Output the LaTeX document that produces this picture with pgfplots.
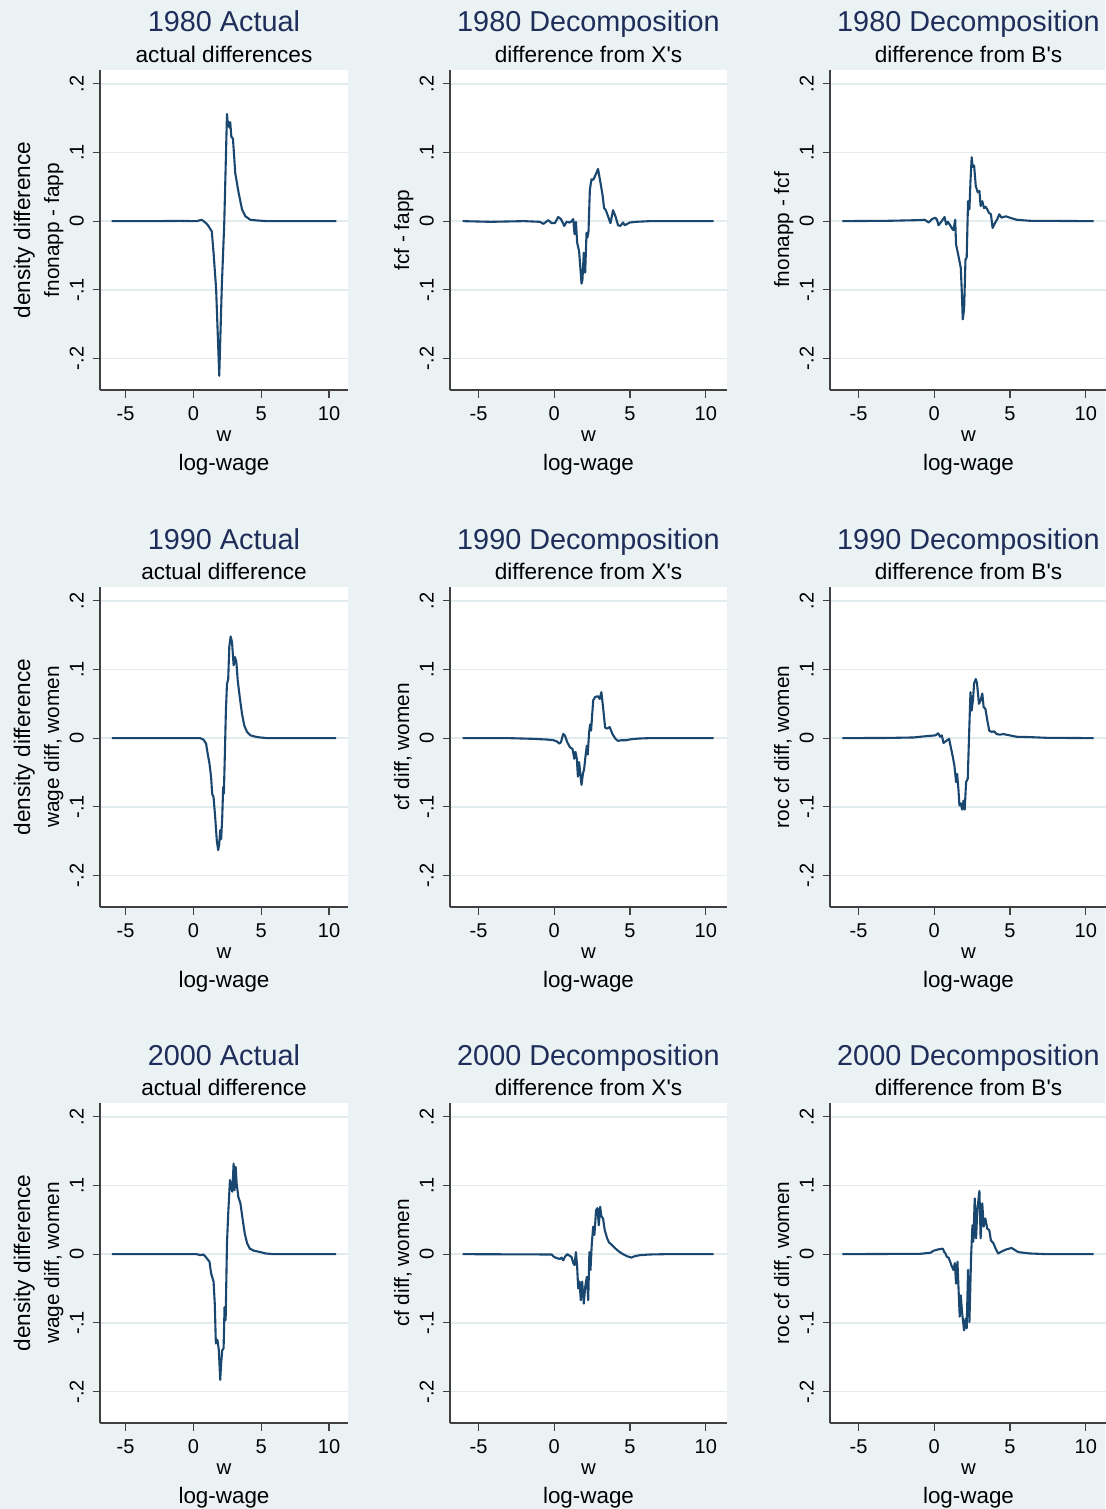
\documentclass[border=0pt]{standalone}
\usepackage{fontspec}
\setmainfont{Liberation Sans}[Ligatures=TeXOff]
\usepackage{pgfplots}
\pgfplotsset{compat=1.18}

\definecolor{bgcol}{RGB}{234,242,243}
\definecolor{gridcol}{RGB}{226,235,238}
\definecolor{axisgray}{RGB}{64,64,64}
\definecolor{navyline}{RGB}{26,71,111}
\definecolor{titlecol}{RGB}{30,45,90}

\pgfplotsset{
  panel/.style={
    scale only axis, anchor=north west,
    height=160pt,
    xmin=-6.88, xmax=11.4, ymin=-0.2458, ymax=0.22,
    axis x line*=bottom, axis y line*=left,
    axis line style={draw=axisgray, line width=0.6pt},
    axis background/.style={fill=white},
    xtick={-5,0,5,10}, xticklabels={-5,0,5,10},
    ytick={-0.2,-0.1,0,0.1,0.2}, yticklabels={-.2,-.1,0,.1,.2},
    tick align=outside, major tick length=3.75pt,
    tick style={draw=axisgray, line width=0.6pt},
    ymajorgrids, grid style={draw=gridcol, line width=0.8pt},
    tick label style={font=\fontsize{10}{12}\selectfont},
    xticklabel style={anchor=base, yshift=-11.6pt},
    yticklabel style={xshift=-4.4pt, rotate=90, anchor=base},
  },
  curve/.style={color=navyline, line width=1.05pt, line join=round, mark=none},
}

% text around one panel: center x, left x, top y (pixels), title, subtitle
\newcommand{\panelhead}[5]{%
  \node[anchor=base, text=titlecol, font=\fontsize{14.4}{17}\selectfont] at (#1,-#3+38) {#4};
  \node[anchor=base, font=\fontsize{11.3}{13}\selectfont] at (#1,-#3+7.7) {#5};
  \node[anchor=base, font=\fontsize{10.2}{12}\selectfont] at (#1,-#3-371.7) {w};
  \node[anchor=base, font=\fontsize{11.2}{13}\selectfont] at (#1,-#3-400) {log-wage};
}
\newcommand{\ytitleone}[3]{% left x, top y, text
  \node[rotate=90, anchor=base, font=\fontsize{10.4}{12}\selectfont] at (#1-41,-#2-160) {#3};
}
\newcommand{\ytitletwo}[4]{% left x, top y, line 1, line 2
  \node[rotate=90, anchor=base, font=\fontsize{11.3}{13}\selectfont] at (#1-70,-#2-160) {#3};
  \node[rotate=90, anchor=base, font=\fontsize{10.4}{12}\selectfont] at (#1-41,-#2-160) {#4};
}

\begin{document}
\begin{tikzpicture}[x=0.5pt, y=0.5pt]
\path[use as bounding box] (0,0) rectangle (1105,-1509);
\fill[bgcol] (0,0) rectangle (1105,-1509);

% ---------------- row 1: 1980 ----------------
\begin{axis}[panel, at={(50pt,-35pt)}, width=124pt]
\addplot[curve] coordinates {
(-6.03,0) (-3,0) (-1,0.0003) (0.25,0) (0.62,0.002) (0.94,-0.003) (1.11,-0.007)
(1.36,-0.015) (1.49,-0.046) (1.68,-0.099) (1.91,-0.225) (2.1,-0.094) (2.28,-0.002)
(2.48,0.156) (2.55,0.138) (2.62,0.144) (2.67,0.136) (2.72,0.144) (2.8,0.123)
(2.92,0.12) (3.09,0.07) (3.34,0.041) (3.59,0.017) (3.84,0.007) (4.2,0.002)
(4.7,0.001) (5.4,0) (10.55,0)};
\end{axis}
\begin{axis}[panel, at={(225pt,-35pt)}, width=138.5pt]
\addplot[curve] coordinates {
(-6.05,0) (-4.2,-0.001) (-2,0) (-0.94,-0.001) (-0.72,-0.004) (-0.39,0.0015)
(-0.18,-0.003) (0.04,-0.003) (0.26,0.006) (0.44,0.003) (0.66,-0.007) (0.81,-0.001)
(1.03,-0.002) (1.14,0) (1.25,0.003) (1.34,-0.019) (1.43,-0.001) (1.51,-0.031)
(1.64,-0.044) (1.8,-0.091) (1.86,-0.085) (1.95,-0.046) (2.04,-0.075) (2.13,-0.017)
(2.19,-0.024) (2.26,-0.015) (2.35,0.046) (2.46,0.061) (2.57,0.06) (2.68,0.065)
(2.89,0.076) (3.05,0.056) (3.18,0.039) (3.29,0.019) (3.4,0.016) (3.55,0.007)
(3.71,-0.003) (3.88,0.016) (4.04,0.007) (4.21,-0.006) (4.36,-0.007) (4.54,-0.002)
(4.65,-0.006) (4.98,-0.002) (5.4,-0.001) (6.3,0) (10.52,0)};
\end{axis}
\begin{axis}[panel, at={(415pt,-35pt)}, width=138.5pt]
\addplot[curve] coordinates {
(-6.06,0) (-3,0.0005) (-0.92,0.0015) (-0.63,0.002) (-0.37,-0.002) (-0.15,0.003)
(0.07,0.005) (0.18,0.002) (0.28,-0.006) (0.46,-0.001) (0.68,0.006) (0.79,-0.005)
(0.9,-0.001) (1.05,-0.006) (1.18,-0.011) (1.27,-0.013) (1.38,0.002) (1.44,-0.034)
(1.6,-0.051) (1.75,-0.068) (1.82,-0.104) (1.88,-0.143) (1.97,-0.128) (2.06,-0.056)
(2.14,-0.053) (2.23,0.029) (2.32,0.017) (2.39,0.058) (2.47,0.093) (2.54,0.079)
(2.63,0.081) (2.74,0.051) (2.87,0.042) (2.98,0.044) (3.06,0.022) (3.17,0.029)
(3.28,0.019) (3.39,0.021) (3.5,0.017) (3.61,0.012) (3.74,0.01) (3.85,-0.01)
(4.0,-0.003) (4.16,0.003) (4.29,0.01) (4.44,0.005) (4.55,0.006) (4.73,0.007)
(4.99,0.005) (5.43,0.002) (6.3,0.0005) (10.52,0)};
\end{axis}

% ---------------- row 2: 1990 ----------------
\begin{axis}[panel, at={(50pt,-293.5pt)}, width=124pt]
\addplot[curve] coordinates {
(-6.01,0) (0.5,0) (0.74,-0.002) (0.94,-0.008) (1.06,-0.023) (1.19,-0.037)
(1.31,-0.057) (1.39,-0.081) (1.49,-0.086) (1.61,-0.115) (1.73,-0.149) (1.83,-0.163)
(1.91,-0.154) (1.98,-0.134) (2.05,-0.147) (2.13,-0.115) (2.2,-0.071) (2.25,-0.081)
(2.33,-0.018) (2.4,0.04) (2.48,0.079) (2.57,0.086) (2.65,0.133) (2.75,0.148)
(2.85,0.14) (2.97,0.106) (3.07,0.118) (3.17,0.111) (3.27,0.084) (3.42,0.06)
(3.59,0.035) (3.76,0.018) (3.96,0.009) (4.21,0.004) (4.7,0.0015) (5.45,0) (10.52,0)};
\end{axis}
\begin{axis}[panel, at={(225pt,-293.5pt)}, width=138.5pt]
\addplot[curve] coordinates {
(-6.05,0) (-3,0) (-1.38,-0.001) (-0.5,-0.002) (-0.07,-0.003) (0.2,-0.005)
(0.33,-0.008) (0.44,-0.006) (0.59,0.006) (0.7,0.004) (0.86,-0.006) (1.03,-0.013)
(1.21,-0.016) (1.32,-0.03) (1.4,-0.02) (1.49,-0.03) (1.56,-0.056) (1.64,-0.035)
(1.73,-0.054) (1.8,-0.068) (1.89,-0.052) (1.97,-0.045) (2.08,-0.023) (2.15,-0.011)
(2.21,-0.024) (2.3,0.009) (2.37,0.02) (2.43,0.011) (2.57,0.055) (2.7,0.06)
(2.89,0.061) (3.0,0.057) (3.11,0.067) (3.22,0.045) (3.36,0.015) (3.49,0.014)
(3.66,0.016) (3.84,0.006) (4.04,-0.001) (4.21,-0.004) (4.43,-0.003) (4.76,-0.003)
(5.09,-0.0015) (5.64,-0.0005) (6.3,0) (10.52,0)};
\end{axis}
\begin{axis}[panel, at={(415pt,-293.5pt)}, width=138.5pt]
\addplot[curve] coordinates {
(-6.06,0) (-3,0.0003) (-1.36,0.001) (-0.48,0.003) (0.07,0.004) (0.26,0.007)
(0.39,0.002) (0.5,0.004) (0.61,-0.007) (0.79,-0.004) (0.98,-0.001) (1.09,-0.013)
(1.23,-0.028) (1.33,-0.04) (1.44,-0.064) (1.51,-0.052) (1.6,-0.076) (1.66,-0.098)
(1.75,-0.095) (1.84,-0.104) (1.93,-0.091) (2.01,-0.104) (2.1,-0.064) (2.21,-0.059)
(2.3,0.006) (2.39,0.067) (2.47,0.04) (2.56,0.057) (2.63,0.08) (2.74,0.086)
(2.82,0.08) (2.95,0.05) (3.06,0.055) (3.17,0.065) (3.26,0.045) (3.37,0.043)
(3.5,0.026) (3.63,0.011) (3.79,0.009) (3.94,0.01) (4.11,0.006) (4.33,0.005)
(4.55,0.006) (4.77,0.005) (4.99,0.004) (5.43,0.002) (6.3,0.0015) (7.4,0.0005) (10.52,0)};
\end{axis}

% ---------------- row 3: 2000 ----------------
\begin{axis}[panel, at={(50pt,-551.5pt)}, width=124pt]
\addplot[curve] coordinates {
(-6.01,0) (0.25,0) (0.5,-0.0015) (0.74,-0.0005) (0.87,-0.003) (0.99,-0.006)
(1.19,-0.011) (1.31,-0.028) (1.49,-0.04) (1.58,-0.072) (1.66,-0.13) (1.78,-0.125)
(1.88,-0.14) (1.98,-0.183) (2.05,-0.159) (2.13,-0.14) (2.23,-0.137) (2.3,-0.077)
(2.38,-0.096) (2.48,0.016) (2.57,0.059) (2.7,0.108) (2.77,0.098) (2.87,0.091)
(2.97,0.132) (3.04,0.093) (3.12,0.127) (3.19,0.103) (3.32,0.083) (3.47,0.074)
(3.64,0.05) (3.79,0.03) (3.96,0.016) (4.16,0.008) (4.46,0.005) (4.95,0.003)
(5.32,0.001) (5.94,0) (10.52,0)};
\end{axis}
\begin{axis}[panel, at={(225pt,-551.5pt)}, width=138.5pt]
\addplot[curve] coordinates {
(-6.05,0) (-0.18,-0.0005) (-0.02,-0.004) (0.2,-0.006) (0.37,-0.007) (0.48,-0.005)
(0.59,-0.009) (0.7,-0.004) (0.86,0) (0.99,-0.002) (1.14,-0.004) (1.25,-0.013)
(1.34,-0.016) (1.43,0.003) (1.51,-0.018) (1.58,-0.05) (1.67,-0.04) (1.75,-0.067)
(1.84,-0.04) (1.95,-0.072) (2.04,-0.048) (2.15,-0.033) (2.24,-0.067) (2.32,0.003)
(2.39,-0.023) (2.48,0.016) (2.57,0.04) (2.65,0.028) (2.76,0.064) (2.85,0.067)
(2.94,0.042) (3.03,0.069) (3.11,0.055) (3.22,0.052) (3.33,0.035) (3.49,0.023)
(3.62,0.017) (3.77,0.014) (3.95,0.01) (4.1,0.007) (4.32,0.003) (4.54,0)
(4.8,-0.003) (5.09,-0.005) (5.31,-0.003) (5.64,-0.0015) (6.29,-0.0005) (7.4,0) (10.52,0)};
\end{axis}
\begin{axis}[panel, at={(415pt,-551.5pt)}, width=138.5pt]
\addplot[curve] coordinates {
(-6.06,0) (-0.92,0.0005) (-0.26,0.002) (-0.04,0.005) (0.28,0.007) (0.57,0.008)
(0.66,0.003) (0.74,0.001) (0.83,-0.004) (0.94,-0.005) (1.05,-0.011) (1.16,-0.018)
(1.27,-0.023) (1.36,-0.013) (1.44,-0.043) (1.53,-0.011) (1.62,-0.06) (1.68,-0.091)
(1.75,-0.06) (1.84,-0.086) (1.97,-0.111) (2.06,-0.094) (2.14,-0.108) (2.23,-0.023)
(2.32,-0.099) (2.43,-0.004) (2.52,0.042) (2.58,0.018) (2.67,0.081) (2.76,0.023)
(2.84,0.064) (2.98,0.092) (3.06,0.023) (3.17,0.074) (3.26,0.04) (3.37,0.052)
(3.5,0.037) (3.63,0.035) (3.74,0.02) (3.9,0.016) (4.05,0.008) (4.22,0.001)
(4.38,0.003) (4.55,0.005) (4.77,0.007) (5.1,0.009) (5.25,0.007) (5.54,0.003)
(6.3,0.001) (7.4,0) (10.52,0)};
\end{axis}

% ---------------- titles and axis titles ----------------
\panelhead{224}{100}{70}{1980 Actual}{actual differences}
\panelhead{588.5}{450}{70}{1980 Decomposition}{difference from X's}
\panelhead{968.5}{830}{70}{1980 Decomposition}{difference from B's}
\panelhead{224}{100}{587}{1990 Actual}{actual difference}
\panelhead{588.5}{450}{587}{1990 Decomposition}{difference from X's}
\panelhead{968.5}{830}{587}{1990 Decomposition}{difference from B's}
\panelhead{224}{100}{1103}{2000 Actual}{actual difference}
\panelhead{588.5}{450}{1103}{2000 Decomposition}{difference from X's}
\panelhead{968.5}{830}{1103}{2000 Decomposition}{difference from B's}

\ytitletwo{100}{70}{density difference}{fnonapp - fapp}
\ytitleone{450}{70}{fcf - fapp}
\ytitleone{830}{70}{fnonapp - fcf}
\ytitletwo{100}{587}{density difference}{wage diff, women}
\ytitleone{450}{587}{cf diff, women}
\ytitleone{830}{587}{roc cf diff, women}
\ytitletwo{100}{1103}{density difference}{wage diff, women}
\ytitleone{450}{1103}{cf diff, women}
\ytitleone{830}{1103}{roc cf diff, women}
\end{tikzpicture}
\end{document}
